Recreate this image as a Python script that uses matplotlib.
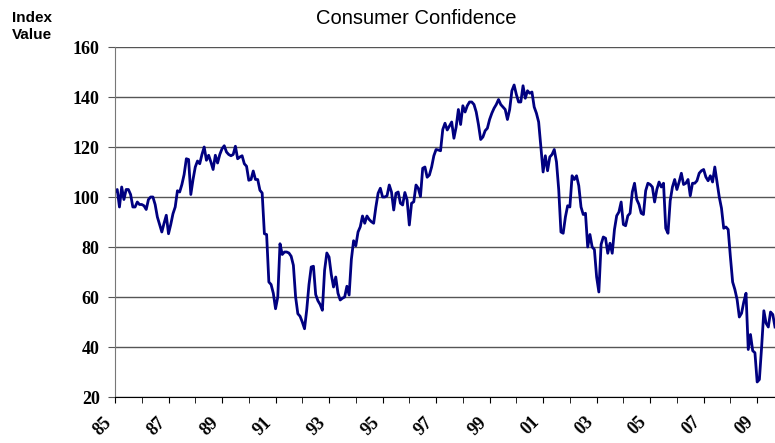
import numpy as np
import matplotlib
matplotlib.use("Agg")
import matplotlib.pyplot as plt
from matplotlib.ticker import MultipleLocator

# monthly index values, Jan 1985 onward
vals_85_89 = [102, 103, 96, 104, 99, 103, 103, 101, 96, 96, 98, 97,
              97, 96.5, 95, 99, 100, 100, 97, 92, 89, 86, 89.5, 92.7,
              85.3, 89, 93.3, 96, 102.5, 102, 105, 109, 115.3, 115, 101, 107,
              112, 114.4, 113.3, 117, 120, 114.7, 116.7, 114, 111, 116.7, 113.6, 117,
              119.3, 120.5, 118, 117, 116.5, 117, 120.3, 115.3, 116, 116.5, 113.3, 112.3]
vals_90_94 = [106.7, 107, 110.4, 107, 107, 102.7, 101.6, 85.3, 85, 66, 65, 61.5,
              55.3, 60, 81.3, 77, 78, 78, 77.6, 76.3, 72.7, 60, 53.3, 52.3,
              50, 47.3, 55, 65, 72, 72.3, 61, 58.5, 57, 54.7, 70.7, 77.6,
              76, 69, 64, 68, 61.5, 58.8, 59.5, 60, 64.3, 60.8, 75, 82.5,
              80.5, 86, 88.1, 92.4, 89.5, 92.4, 91, 90.1, 89.5, 96, 101.5, 103.5]
vals_95_99 = [100, 100, 100.5, 104.8, 102, 94.8, 101.5, 102, 97.5, 96.8, 101.8, 98.8,
              88.8, 97.5, 98.1, 104.8, 103.5, 100.2, 111.5, 112, 107.9, 108.8, 112, 116.5,
              119, 118.8, 118.5, 127, 129.5, 126.8, 128.4, 130, 123.5, 128, 135, 129,
              136.5, 134, 136.5, 138, 138, 137, 134, 129, 123, 124, 126.5, 127.5,
              131, 133.5, 135.5, 137, 139, 137, 136, 135, 131, 135, 142.5, 144.8]
vals_00_04 = [141, 138, 138, 144.5, 139.5, 142.5, 141.5, 142, 136, 133.5, 130, 120,
              110, 116.5, 110.5, 116, 117, 119, 114, 103, 86, 85.5, 92, 96.5,
              96, 108.5, 107, 108.5, 104.5, 96, 93, 93.5, 80, 85, 80, 79,
              68, 62, 81, 84, 83.5, 77.5, 81.5, 77.5, 87, 92.5, 94, 98,
              89, 88.5, 92.5, 93.5, 102, 105.5, 99, 97, 93.5, 93, 102.5, 105.5]
vals_05_09 = [105, 104, 98, 103, 106, 104, 105.5, 87.5, 85.5, 98.5, 104, 107,
              103, 106, 109.5, 105, 105.5, 107, 100.5, 105.5, 105.5, 106.5, 109.5, 110.5,
              111, 108, 106.5, 108.5, 106, 112, 106, 100, 95.5, 87.5, 88, 87,
              76, 66, 63, 59, 52, 53.5, 58, 61.5, 39, 45, 38.5, 37.7,
              26, 27, 40, 54.5, 49.5, 48, 54, 53, 48]

year_labels = ["85", "87", "89", "91", "93", "95", "97", "99",
               "01", "03", "05", "07", "09"]

values = vals_85_89 + vals_90_94 + vals_95_99 + vals_00_04 + vals_05_09
months = np.arange(len(values))

fig = plt.figure(figsize=(7.75, 4.43), dpi=100)
ax = fig.add_axes([115 / 775, 46 / 443, 1 - 115 / 775, 350 / 443])

ax.plot(months, values, color="#000080", lw=2, solid_joinstyle="round")

ax.set_ylim(20, 160)
ax.set_xlim(0, len(values) - 1)
ax.yaxis.set_major_locator(MultipleLocator(20))
ax.grid(axis="y", color="#555555", lw=1)
ax.set_axisbelow(True)

ax.set_xticks(np.arange(0, len(values), 24))
ax.set_xticks(np.arange(0, len(values), 12), minor=True)
ax.set_xticklabels(year_labels, rotation=45, ha="right", va="top",
                   family="Liberation Serif", fontweight="bold", fontsize=13)
ax.tick_params(axis="x", which="both", length=4, direction="out", color="black", pad=8)
ax.tick_params(axis="y", length=5, color="#555555", pad=6)
for lab in ax.get_yticklabels():
    lab.set_family("Liberation Serif")
    lab.set_fontweight("bold")
    lab.set_fontsize(13)

for side in ["top", "right"]:
    ax.spines[side].set_visible(False)
ax.spines["left"].set_color("#777777")
ax.spines["bottom"].set_color("black")

fig.text(416 / 775, 1 - 19 / 443, "Consumer Confidence", ha="center", va="center",
         family="Liberation Sans", fontsize=14.5)
fig.text(12 / 775, 1 - 11 / 443, "Index\nValue", ha="left", va="top",
         family="Liberation Sans", fontweight="bold", fontsize=11, linespacing=1.25)

fig.savefig("out.png", dpi=100)
